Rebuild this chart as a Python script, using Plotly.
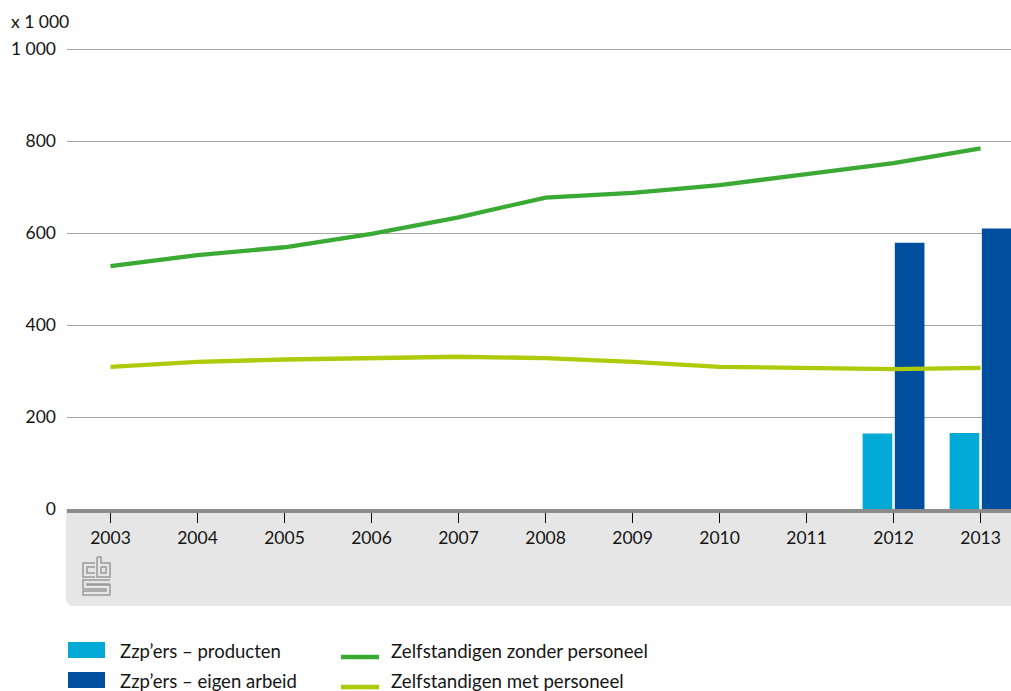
import plotly.graph_objects as go

# ---- data ----
years = [str(y) for y in range(2003, 2014)]
zzp_producten = [None, None, None, None, None, None, None, None, None, 164, 165]
zzp_eigen_arbeid = [None, None, None, None, None, None, None, None, None, 579, 610]
zonder_personeel = [528, 552, 569, 598, 634, 677, 687, 704, 728, 752, 784]
met_personeel = [309, 320, 325, 328, 331, 328, 320, 309, 306, 304, 307]
y_tickvals = [0, 200, 400, 600, 800, 1000]
y_ticktext = ["0", "200", "400", "600", "800", "1 000"]
legend_bar_names = ["Zzp\u2019ers \u2013 producten", "Zzp\u2019ers \u2013 eigen arbeid"]
legend_line_names = ["Zelfstandigen zonder personeel", "Zelfstandigen met personeel"]

# colours
C_PROD = "#00a9d6"
C_EIGEN = "#004f9f"
C_ZONDER = "#3aaa35"
C_MET = "#afca0b"

# ---- layout geometry (page pixels) ----
W, H = 1011, 691
L, R, T, B = 67, 0, 47, 182
PW, PH = W - L - R, H - T - B
Y_TOP = 1004.35


def px(x):
    """page pixel x -> paper x"""
    return (x - L) / PW


def py(y):
    """page pixel y -> paper y"""
    return (H - B - y) / PH


FONT = "Lato"
TXT = "#151515"

fig = go.Figure()
fig.add_trace(go.Bar(x=years, y=zzp_producten, name=legend_bar_names[0],
                     marker=dict(color=C_PROD, line=dict(width=0))))
fig.add_trace(go.Bar(x=years, y=zzp_eigen_arbeid, name=legend_bar_names[1],
                     marker=dict(color=C_EIGEN, line=dict(width=0))))
fig.add_trace(go.Scatter(x=years, y=zonder_personeel, mode="lines",
                         name=legend_line_names[0],
                         line=dict(color=C_ZONDER, width=4.3)))
fig.add_trace(go.Scatter(x=years, y=met_personeel, mode="lines",
                         name=legend_line_names[1],
                         line=dict(color=C_MET, width=4.3)))

shapes = []
# grey band under the axis with rounded bottom-left corner
r_x, r_y = 8 / PW, 8 / PH
x0, x1 = px(66), 1.0
y0, y1 = 0.0, py(606)
shapes.append(dict(
    type="path", xref="paper", yref="paper", layer="below",
    path=(f"M{x0},{y0} L{x1},{y0} L{x1},{y1} L{x0 + r_x},{y1} "
          f"Q{x0},{y1} {x0},{y1 + r_y} Z"),
    fillcolor="#e6e6e6", line=dict(width=0)))

# CBS logo (approximate, grey strokes)
logo_paths = [
    [(95, 563), (83, 563), (83, 577), (95, 577)],
    [(95, 567), (87, 567), (87, 573), (95, 573)],
    [(97, 557), (97, 577), (110, 577), (110, 563), (101, 563), (101, 557), (97, 557)],
    [(101, 567), (106, 567), (106, 573), (101, 573), (101, 567)],
    [(110, 580), (83, 580), (83, 589), (106, 589), (106, 591), (83, 591), (83, 595), (110, 595),
     (110, 585), (87, 585), (87, 584), (110, 584)],
]
for pts in logo_paths:
    d = "M" + " L".join(f"{px(a)},{py(b)}" for a, b in pts)
    shapes.append(dict(type="path", xref="paper", yref="paper", layer="above",
                       path=d, line=dict(color="#9a9a9a", width=1.5)))

# legend (drawn manually to match the swatch shapes)
annotations = []
rows_y = [651, 681]
for i, (name, col) in enumerate(zip(legend_bar_names, [C_PROD, C_EIGEN])):
    yc = rows_y[i]
    shapes.append(dict(type="rect", xref="paper", yref="paper",
                       x0=px(68), x1=px(105), y0=py(yc - 9), y1=py(yc + 7),
                       fillcolor=col, line=dict(width=0)))
    annotations.append(dict(text=name, xref="paper", yref="paper",
                            x=px(118), y=py(yc), xanchor="left", yanchor="middle",
                            showarrow=False, font=dict(family=FONT, size=18.5, color=TXT)))
for i, (name, col) in enumerate(zip(legend_line_names, [C_ZONDER, C_MET])):
    yc = rows_y[i]
    shapes.append(dict(type="line", xref="paper", yref="paper",
                       x0=px(341), x1=px(379), y0=py(yc + 6), y1=py(yc + 6),
                       line=dict(color=col, width=4.5)))
    annotations.append(dict(text=name, xref="paper", yref="paper",
                            x=px(389), y=py(yc), xanchor="left", yanchor="middle",
                            showarrow=False, font=dict(family=FONT, size=18.7, color=TXT)))

annotations.append(dict(text="x 1 000", xref="paper", yref="paper",
                        x=px(9), y=py(22), xanchor="left", yanchor="middle",
                        showarrow=False, font=dict(family=FONT, size=17.5, color=TXT)))

fig.update_layout(
    width=W, height=H, autosize=False,
    margin=dict(l=L, r=R, t=T, b=B, pad=0),
    paper_bgcolor="white", plot_bgcolor="white",
    font=dict(family=FONT, size=17.5, color=TXT),
    barmode="group", bargap=0.26, bargroupgap=0.08,
    showlegend=False,
    shapes=shapes,
    annotations=annotations,
)

fig.update_xaxes(type="category", range=[-0.5, 10.35],
                 showline=True, linecolor="#8c8c8c", linewidth=4,
                 ticks="outside", ticklen=10, tickcolor="#000000", tickwidth=1,
                 showgrid=False, zeroline=False,
                 tickfont=dict(family=FONT, size=17.5, color=TXT))
fig.update_yaxes(range=[0, Y_TOP], tickvals=y_tickvals, ticktext=y_ticktext,
                 showgrid=True, gridcolor="#a6a6a6", gridwidth=1,
                 zeroline=False, showline=False, ticks="",
                 ticklabelstandoff=10,
                 tickfont=dict(family=FONT, size=17.5, color=TXT))

# remove the default 8px page margin so the figure fills the window exactly
fig.write_html("out.html",
               config={"displayModeBar": False},
               post_script="document.body.style.margin='0';document.body.style.overflow='hidden';")
